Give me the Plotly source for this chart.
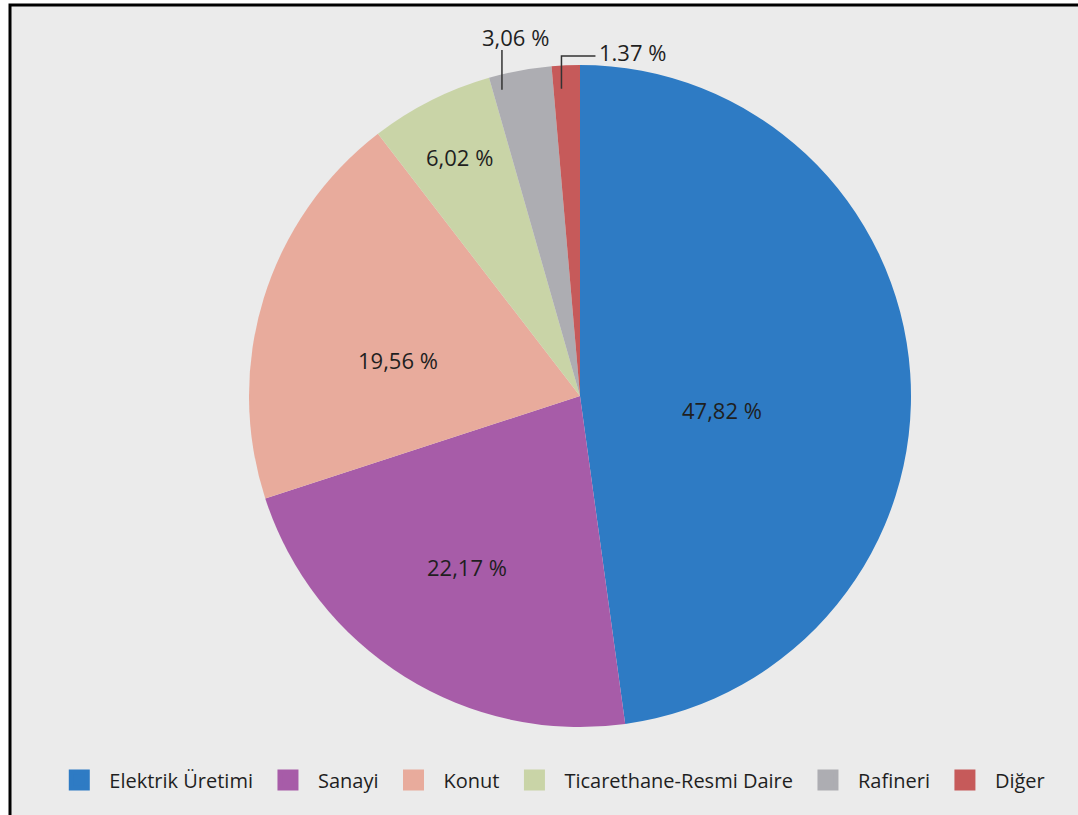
import math
import plotly.graph_objects as go

categories = ["Elektrik Üretimi", "Sanayi", "Konut", "Ticarethane-Resmi Daire", "Rafineri", "Diğer"]
values = [47.82, 22.17, 19.56, 6.02, 3.06, 1.37]
text_labels = ["47,82 %", "22,17 %", "19,56 %", "6,02 %", "3,06 %", "1.37 %"]
colors = ["#2e7bc4", "#a75ca8", "#e8ab9c", "#c9d4a7", "#adadb2", "#c65a5a"]

W, H = 1078, 815
FONT = "Open Sans"
TXT = "#1f1f1f"
LBL = 22

# pie geometry (pixels)
CX, CY, R = 580, 396, 331

fig = go.Figure()
fig.add_trace(go.Pie(
    labels=categories,
    values=values,
    textinfo="none",
    sort=False,
    direction="clockwise",
    rotation=0,
    marker=dict(colors=colors, line=dict(width=0)),
    domain=dict(x=[(CX - R) / W, (CX + R) / W], y=[1 - (CY + R) / H, 1 - (CY - R) / H]),
    showlegend=False,
    hoverinfo="label+percent",
))

# legend entries (square swatches)
for cat, col in zip(categories, colors):
    fig.add_trace(go.Scatter(
        x=[None], y=[None], mode="markers", name=cat,
        marker=dict(symbol="square", size=16, color=col, line=dict(color=col, width=5)),
        hoverinfo="skip",
    ))


def px2paper(x, y):
    return x / W, 1 - y / H


# slice angles (degrees clockwise from 12 o'clock)
total = sum(values)
starts, ends = [], []
acc = 0.0
for v in values:
    starts.append(acc / total * 360)
    acc += v
    ends.append(acc / total * 360)


def polar(theta_deg, rf):
    t = math.radians(theta_deg)
    return CX + rf * R * math.sin(t), CY - rf * R * math.cos(t)


def label(x, y, text, xanchor="center"):
    ax_, ay_ = px2paper(x, y)
    return dict(x=ax_, y=ay_, xref="paper", yref="paper", text=text,
                xanchor=xanchor, yanchor="middle", showarrow=False,
                font=dict(family=FONT, size=LBL, color=TXT))


annotations = []
shapes = [dict(
    type="rect", xref="paper", yref="paper",
    x0=10 / W, x1=1.05, y0=-0.05, y1=1 - 5 / H,
    fillcolor="#ebebeb", line=dict(color="black", width=3), layer="below",
)]

# inside labels: (fraction along slice angle, radius fraction)
inside_style = {0: (0.555, 0.43), 1: (0.516, 0.62), 2: (0.415, 0.56), 3: (0.5, 0.81)}
for i, (af, rf) in inside_style.items():
    th = starts[i] + af * (ends[i] - starts[i])
    x, y = polar(th, rf)
    annotations.append(label(x, y, text_labels[i]))

# Rafineri: vertical leader line
th = starts[4] + 0.15 * (ends[4] - starts[4])
lx, ly = polar(th, 0.955)
top_y = 50
x0, y0 = px2paper(lx, ly)
x1, y1 = px2paper(lx, top_y)
shapes.append(dict(type="line", xref="paper", yref="paper", x0=x0, y0=y0, x1=x1, y1=y1,
                   line=dict(color="#333333", width=1.5)))
annotations.append(label(lx + 14, top_y - 13, text_labels[4]))

# Diğer: elbow leader line
th = starts[5] + 0.3 * (ends[5] - starts[5])
dx_, dy_ = polar(th, 0.93)
elbow_y = 56
end_x = dx_ + 34
p = [px2paper(dx_, dy_), px2paper(dx_, elbow_y), px2paper(end_x, elbow_y)]
path = "M {} {} L {} {} L {} {}".format(p[0][0], p[0][1], p[1][0], p[1][1], p[2][0], p[2][1])
shapes.append(dict(type="path", xref="paper", yref="paper", path=path,
                   line=dict(color="#333333", width=1.5)))
annotations.append(label(end_x + 2, elbow_y - 4, text_labels[5], xanchor="left"))

fig.update_layout(
    width=W, height=H,
    margin=dict(l=0, r=0, t=0, b=0),
    paper_bgcolor="white",
    plot_bgcolor="rgba(0,0,0,0)",
    font=dict(family=FONT, size=20, color=TXT),
    xaxis=dict(visible=False),
    yaxis=dict(visible=False),
    legend=dict(
        orientation="h", x=0.51, xanchor="center", y=1 - 780 / H, yanchor="middle",
        font=dict(family=FONT, size=20, color=TXT),
        itemwidth=50,
        bgcolor="rgba(0,0,0,0)", itemclick=False, itemdoubleclick=False,
    ),
    shapes=shapes,
    annotations=annotations,
)

fig.write_html("out.html", config={"displayModeBar": False},
               post_script="document.body.style.margin='0';")
